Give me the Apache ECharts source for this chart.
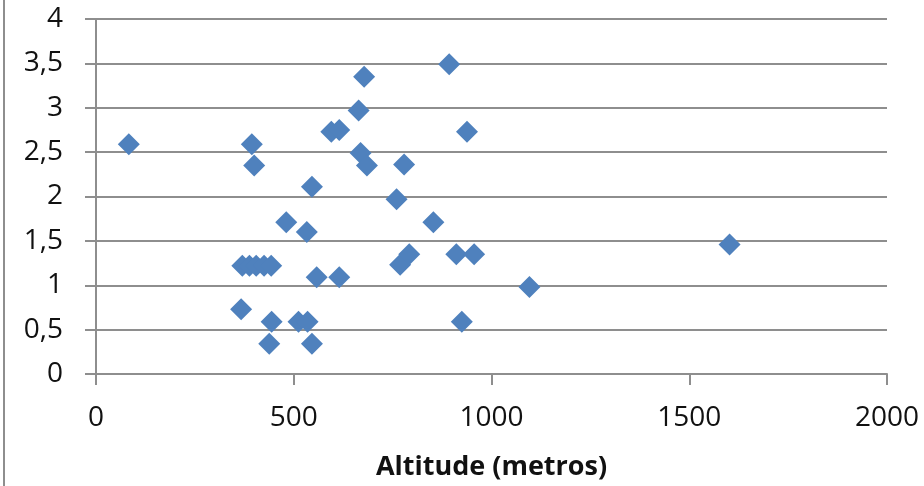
<!DOCTYPE html>
<html>
<head>
<meta charset="utf-8">
<script src="https://cdn.jsdelivr.net/npm/echarts@6/dist/echarts.min.js"></script>
<style>
html,body{margin:0;padding:0;background:#fff;}
#chart{width:924px;height:486px;}
</style>
</head>
<body>
<div id="chart"></div>
<script>
// Altitude (m) and values
const altitude = [83, 394, 400, 546, 595, 615, 664, 678, 669, 685, 779, 893, 938, 760, 481, 533,
  370, 388, 405, 425, 443, 558, 615, 367, 444, 438, 512, 535, 546, 853, 769, 792, 911, 956, 925, 1096, 1602];
const values = [2.59, 2.59, 2.35, 2.11, 2.73, 2.75, 2.97, 3.35, 2.49, 2.35, 2.36, 3.49, 2.73, 1.97, 1.71, 1.60,
  1.22, 1.22, 1.22, 1.22, 1.22, 1.09, 1.09, 0.73, 0.59, 0.34, 0.59, 0.59, 0.34, 1.71, 1.23, 1.35, 1.35, 1.35, 0.59, 0.98, 1.46];
const xTitle = 'Altitude (metros)';

const points = altitude.map((a, i) => [a, values[i]]);
const gray = '#8e8e8e';
const chart = echarts.init(document.getElementById('chart'));
chart.setOption({
  animation: false,
  backgroundColor: '#fff',
  grid: { left: 96, right: 37, top: 19, bottom: 112, containLabel: false },
  xAxis: {
    type: 'value', min: 0, max: 2000, interval: 500,
    name: xTitle, nameLocation: 'middle', nameGap: 80,
    nameTextStyle: { fontFamily: 'Open Sans', fontWeight: 'bold', fontSize: 27, color: '#111' },
    axisLine: { show: true, lineStyle: { color: gray, width: 2 } },
    axisTick: { show: true, length: 11, lineStyle: { color: gray, width: 2 } },
    axisLabel: { fontFamily: 'Open Sans', fontSize: 28, color: '#111', margin: 30,
      formatter: v => String(v) },
    splitLine: { show: false }
  },
  yAxis: {
    type: 'value', min: 0, max: 4, interval: 0.5,
    axisLine: { show: true, lineStyle: { color: gray, width: 2 } },
    axisTick: { show: true, length: 11, lineStyle: { color: gray, width: 2 } },
    axisLabel: { fontFamily: 'Open Sans', fontSize: 28, color: '#111', margin: 33,
      formatter: v => String(v).replace('.', ',') },
    splitLine: { show: true, lineStyle: { color: gray, width: 2 } }
  },
  graphic: [{
    type: 'line', shape: { x1: 4, y1: 0, x2: 4, y2: 486 },
    style: { stroke: gray, lineWidth: 2 }
  }],
  series: [{
    type: 'scatter',
    data: points,
    symbol: 'diamond',
    symbolSize: 22,
    itemStyle: { color: '#4F81BD', opacity: 1 }
  }]
});
</script>
</body>
</html>
